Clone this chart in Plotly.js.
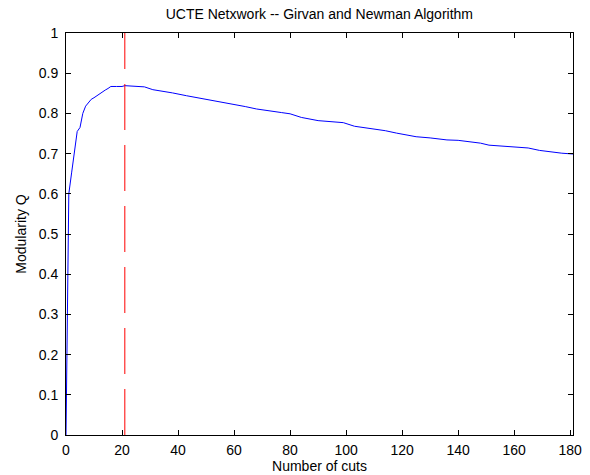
<!DOCTYPE html>
<html>
<head>
<meta charset="utf-8">
<script src="https://cdn.plot.ly/plotly-3.0.1.min.js"></script>
<style>html,body{margin:0;padding:0;background:#fff;}#chart{width:590px;height:475px;}</style>
</head>
<body>
<div id="chart"></div>
<script>
// Number of cuts (x) and modularity Q (y)
var cuts = [0,1,2,3,4,5,6,7,8,9,10,11,12,13,14,15,16,18,20,21,24,27,28,31,35,38,43,47,51,55,60,64,68,73,77,80,84,90,94,99,103,110,114,118,125,130,136,140,144,148,151,156,161,165,169,173,177,181];
var modularity = [0,0.600,0.652,0.703,0.755,0.765,0.800,0.818,0.826,0.835,0.839,0.844,0.850,0.854,0.858,0.862,0.867,0.867,0.867,0.869,0.868,0.867,0.866,0.859,0.855,0.851,0.844,0.839,0.834,0.828,0.823,0.817,0.811,0.807,0.802,0.799,0.790,0.782,0.780,0.777,0.768,0.762,0.757,0.751,0.742,0.739,0.734,0.733,0.730,0.726,0.721,0.719,0.716,0.714,0.708,0.704,0.701,0.699];
// Vertical marker at the best cut
var bestCut = [21, 21];
var markerY = [0, 1];
var xTicks = [0,20,40,60,80,100,120,140,160,180];
var yTicks = [0,0.1,0.2,0.3,0.4,0.5,0.6,0.7,0.8,0.9,1];
var yTickText = ['0','0.1','0.2','0.3','0.4','0.5','0.6','0.7','0.8','0.9','1'];

var traces = [
  {x: cuts, y: modularity, type: 'scatter', mode: 'lines',
   line: {color: '#0000ff', width: 1}, hoverinfo: 'skip'},
  {x: bestCut, y: markerY, type: 'scatter', mode: 'lines',
   line: {color: '#ff0000', width: 1, dash: '46px,15px'}, hoverinfo: 'skip'}
];

var fontFam = 'Liberation Sans, Arial, sans-serif';
var fs = 14;
var layout = {
  width: 590, height: 475,
  margin: {l: 66, r: 17, t: 33, b: 40},
  paper_bgcolor: '#ffffff', plot_bgcolor: '#ffffff',
  showlegend: false,
  font: {family: fontFam, size: fs, color: '#000'},
  title: {text: 'UCTE Netxwork -- Girvan and Newman Algorithm', font: {family: fontFam, size: fs, color: '#000'},
          x: 0.5413, xanchor: 'center', y: 0.9705, yanchor: 'middle'},
  xaxis: {range: [0, 181], tickvals: xTicks, ticks: 'inside', ticklen: 5, tickcolor: '#000', tickwidth: 1,
          showline: true, linecolor: '#000', linewidth: 1, mirror: 'ticks', showgrid: false, zeroline: false,
          ticklabelstandoff: 2,
          tickfont: {family: fontFam, size: fs, color: '#000'},
          title: {text: 'Number of cuts', font: {family: fontFam, size: fs, color: '#000'}, standoff: 2}},
  yaxis: {range: [0, 1], tickvals: yTicks, ticktext: yTickText, ticks: 'inside', ticklen: 5, tickcolor: '#000', tickwidth: 1,
          showline: true, linecolor: '#000', linewidth: 1, mirror: 'ticks', showgrid: false, zeroline: false,
          ticklabelstandoff: 4,
          tickfont: {family: fontFam, size: fs, color: '#000'},
          title: {text: 'Modularity Q', font: {family: fontFam, size: fs, color: '#000'}, standoff: 8}}
};
Plotly.newPlot('chart', traces, layout, {displayModeBar: false, staticPlot: true});
</script>
</body>
</html>
